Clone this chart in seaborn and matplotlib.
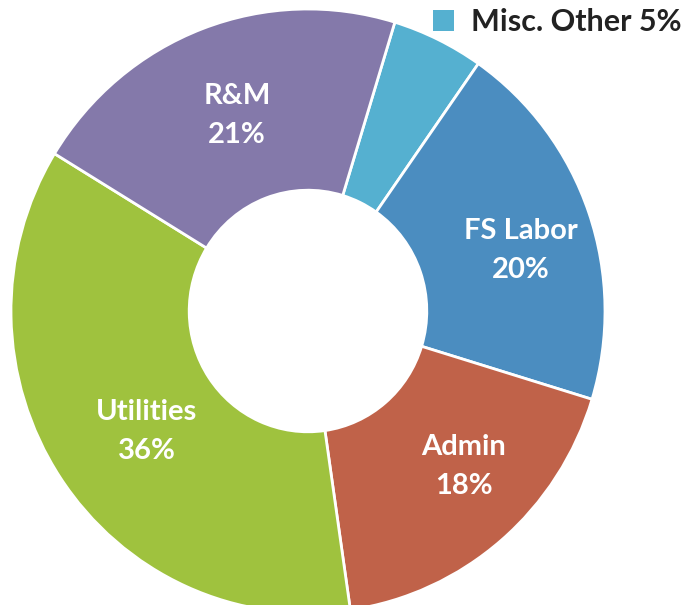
import matplotlib
matplotlib.use("Agg")
import matplotlib.pyplot as plt
import seaborn as sns
import numpy as np

# Data
categories = ["Misc. Other", "FS Labor", "Admin", "Utilities", "R&M"]
shares = [5, 20, 18, 36, 21]
colors = ["#55b0d0", "#4b8dc0", "#c06249", "#9fc23e", "#8479aa"]

# label placement (radius, angular nudge in degrees) per slice
label_r = [0.0, 0.745, 0.735, 0.675, 0.69]
label_dth = [0, -3.5, 5, 3, -0.5]

sns.set_theme(style="white")
plt.rcParams["font.family"] = ["Lato", "DejaVu Sans"]

W, H = 686, 605
fig = plt.figure(figsize=(W / 100, H / 100), dpi=100)
ax = fig.add_axes([0, 0, 1, 1])

wedges, _ = ax.pie(
    shares,
    colors=colors,
    startangle=73,
    counterclock=False,
    wedgeprops=dict(width=0.6, edgecolor="white", linewidth=2),
)

for w, c, v, r, d in zip(wedges, categories, shares, label_r, label_dth):
    if c == "Misc. Other":
        continue
    mid = np.deg2rad((w.theta1 + w.theta2) / 2 + d)
    ax.text(r * np.cos(mid), r * np.sin(mid), f"{c}\n{v}%",
            color="white", fontsize=21, fontweight="bold",
            ha="center", va="center", linespacing=1.62)

# pixel geometry of the donut
cx, cy, rx, ry = 308, 311, 297, 302
ax.set_aspect("auto")
ax.set_xlim(-cx / rx, (W - cx) / rx)
ax.set_ylim(-(H - cy) / ry, cy / ry)
ax.axis("off")

leg = fig.legend(
    [wedges[0]], [f"{categories[0]} {shares[0]}%"],
    loc="upper right", bbox_to_anchor=(1.016, 1.012),
    frameon=False, handlelength=0.7, handleheight=0.7, handletextpad=0.55,
    prop=dict(size=22, weight="bold"), borderaxespad=0.1,
)
for txt in leg.get_texts():
    txt.set_color("#222222")
for h in leg.legend_handles:
    h.set_edgecolor("none")

fig.savefig("out.png", dpi=100)
